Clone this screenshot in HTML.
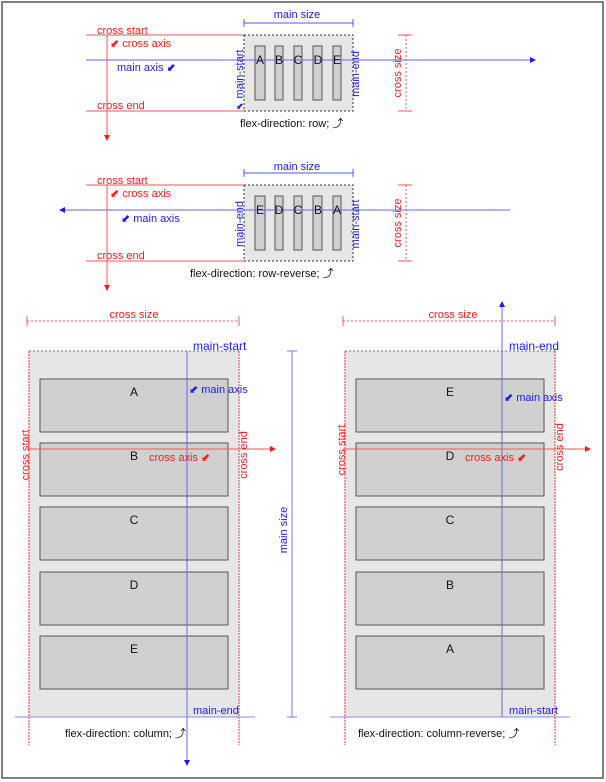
<!DOCTYPE html>
<html><head><meta charset="utf-8"><style>
html,body{margin:0;padding:0;background:#fff;}
svg{display:block;font-family:"Liberation Sans",sans-serif;font-size:11px;}
.r{fill:#ff1a1a}.b{fill:#1a1aff}.k{fill:#111}
</style></head><body>
<svg width="606" height="782" viewBox="0 0 606 782" xmlns="http://www.w3.org/2000/svg">
<defs>
<marker id="ab" markerWidth="6" markerHeight="6" refX="5" refY="3" orient="auto" markerUnits="userSpaceOnUse"><path d="M0,0L6,3L0,6z" fill="#1a1aff"/></marker>
<marker id="ar" markerWidth="6" markerHeight="6" refX="5" refY="3" orient="auto" markerUnits="userSpaceOnUse"><path d="M0,0L6,3L0,6z" fill="#ff1a1a"/></marker>
</defs>
<rect x="2" y="2" width="601" height="776" fill="none" stroke="#555" stroke-width="1.5"/>

<!-- ROW -->
<text x="297" y="18" class="b" text-anchor="middle">main size</text>
<path d="M244,23H353M244,19V27M353,19V27" stroke="#55f" fill="none"/>
<rect x="244" y="35" width="109" height="76" fill="#e6e6e6" stroke="#333" stroke-dasharray="2,2"/>
<path d="M86,35H244M86,111H244" stroke="#f55"/>
<line x1="107" y1="35" x2="107" y2="140" stroke="#f55" marker-end="url(#ar)"/>
<g fill="#d0d0d0" stroke="#555">
<rect x="255" y="46" width="10" height="54"/><rect x="275" y="46" width="8" height="54"/><rect x="294" y="46" width="8" height="54"/><rect x="313" y="46" width="9" height="54"/><rect x="333" y="46" width="8" height="54"/></g>
<line x1="86" y1="60" x2="535" y2="60" stroke="#66f" marker-end="url(#ab)"/>
<g class="k" font-size="12" text-anchor="middle"><text x="260" y="64">A</text><text x="279" y="64">B</text><text x="298" y="64">C</text><text x="318" y="64">D</text><text x="337" y="64">E</text></g>
<text x="97" y="34" class="r">cross start</text>
<text x="110" y="47" class="r">⬋ cross axis</text>
<text x="117" y="71" class="b">main axis ⬋</text>
<text x="97" y="109" class="r">cross end</text>
<text class="b" transform="translate(243,74) rotate(-90)" text-anchor="middle">main-start</text>
<text x="236" y="109" class="b" font-size="9">⬋</text>
<text class="b" transform="translate(359,74) rotate(-90)" text-anchor="middle">main-end</text>
<path d="M398,35H412M398,111H412" stroke="#f55"/>
<line x1="406" y1="35" x2="406" y2="111" stroke="#f55" stroke-dasharray="2,2"/>
<text class="r" transform="translate(401,73) rotate(-90)" text-anchor="middle">cross size</text>
<text x="240" y="127" class="k">flex-direction: row; ⤴</text>

<!-- ROW-REVERSE -->
<text x="297" y="170" class="b" text-anchor="middle">main size</text>
<path d="M244,173H353M244,169V177M353,169V177" stroke="#55f" fill="none"/>
<rect x="244" y="185" width="109" height="76" fill="#e6e6e6" stroke="#333" stroke-dasharray="2,2"/>
<path d="M86,185H244M86,261H244" stroke="#f55"/>
<line x1="107" y1="185" x2="107" y2="290" stroke="#f55" marker-end="url(#ar)"/>
<g fill="#d0d0d0" stroke="#555">
<rect x="255" y="196" width="10" height="54"/><rect x="275" y="196" width="8" height="54"/><rect x="294" y="196" width="8" height="54"/><rect x="313" y="196" width="9" height="54"/><rect x="333" y="196" width="8" height="54"/></g>
<line x1="510" y1="210" x2="60" y2="210" stroke="#66f" marker-end="url(#ab)"/>
<g class="k" font-size="12" text-anchor="middle"><text x="260" y="214">E</text><text x="279" y="214">D</text><text x="298" y="214">C</text><text x="318" y="214">B</text><text x="337" y="214">A</text></g>
<text x="97" y="184" class="r">cross start</text>
<text x="110" y="197" class="r">⬋ cross axis</text>
<text x="121" y="222" class="b">⬋ main axis</text>
<text x="97" y="259" class="r">cross end</text>
<text class="b" transform="translate(243,224) rotate(-90)" text-anchor="middle">main-end</text>
<text class="b" transform="translate(359,224) rotate(-90)" text-anchor="middle">main-start</text>
<path d="M398,185H412M398,261H412" stroke="#f55"/>
<line x1="406" y1="185" x2="406" y2="261" stroke="#f55" stroke-dasharray="2,2"/>
<text class="r" transform="translate(401,223) rotate(-90)" text-anchor="middle">cross size</text>
<text x="190" y="277" class="k">flex-direction: row-reverse; ⤴</text>

<!-- COLUMN -->
<text x="134" y="318" class="r" text-anchor="middle">cross size</text>
<path d="M27,316V326M239,316V326" stroke="#f55"/>
<line x1="27" y1="321" x2="239" y2="321" stroke="#f55" stroke-dasharray="2,2"/>
<rect x="29" y="351" width="210" height="366" fill="#e6e6e6"/>
<path d="M29,351H239M29,717H239" stroke="#333" stroke-dasharray="2,2"/>
<line x1="29" y1="351" x2="239" y2="351" stroke="#66f" stroke-dasharray="2,2"/>
<path d="M29,351V745M239,351V745" stroke="#f33" stroke-dasharray="2,1"/>
<g fill="#d0d0d0" stroke="#555">
<rect x="40" y="379" width="188" height="53"/><rect x="40" y="443" width="188" height="53"/><rect x="40" y="507" width="188" height="53"/><rect x="40" y="572" width="188" height="53"/><rect x="40" y="636" width="188" height="53"/></g>
<g class="k" font-size="12" text-anchor="middle"><text x="134" y="396">A</text><text x="134" y="460">B</text><text x="134" y="524">C</text><text x="134" y="589">D</text><text x="134" y="653">E</text></g>
<line x1="187" y1="351" x2="187" y2="765" stroke="#66f" marker-end="url(#ab)"/>
<line x1="15" y1="717" x2="255" y2="717" stroke="#88f"/>
<line x1="27" y1="449" x2="275" y2="449" stroke="#f55" marker-end="url(#ar)"/>
<text x="193" y="350" class="b" font-size="12">main-start</text>
<text x="189" y="393" class="b">⬋ main axis</text>
<text x="149" y="461" class="r">cross axis ⬋</text>
<text class="r" transform="translate(29,455) rotate(-90)" text-anchor="middle">cross start</text>
<text class="r" transform="translate(247,455) rotate(-90)" text-anchor="middle">cross end</text>
<text x="193" y="714" class="b">main-end</text>
<path d="M292,351V717M287,351H297M287,717H297" stroke="#77f" fill="none"/>
<text class="b" transform="translate(287,530) rotate(-90)" text-anchor="middle">main size</text>
<text x="65" y="737" class="k">flex-direction: column; ⤴</text>

<!-- COLUMN-REVERSE -->
<text x="453" y="318" class="r" text-anchor="middle">cross size</text>
<path d="M343,316V326M555,316V326" stroke="#f55"/>
<line x1="343" y1="321" x2="555" y2="321" stroke="#f55" stroke-dasharray="2,2"/>
<rect x="345" y="351" width="210" height="366" fill="#e6e6e6"/>
<path d="M345,717H555" stroke="#333" stroke-dasharray="2,2"/>
<line x1="345" y1="351" x2="555" y2="351" stroke="#66f" stroke-dasharray="2,2"/>
<path d="M345,351V745M555,351V745" stroke="#f33" stroke-dasharray="2,1"/>
<g fill="#d0d0d0" stroke="#555">
<rect x="356" y="379" width="188" height="53"/><rect x="356" y="443" width="188" height="53"/><rect x="356" y="507" width="188" height="53"/><rect x="356" y="572" width="188" height="53"/><rect x="356" y="636" width="188" height="53"/></g>
<g class="k" font-size="12" text-anchor="middle"><text x="450" y="396">E</text><text x="450" y="460">D</text><text x="450" y="524">C</text><text x="450" y="589">B</text><text x="450" y="653">A</text></g>
<line x1="502" y1="717" x2="502" y2="302" stroke="#66f" marker-end="url(#ab)"/>
<line x1="330" y1="717" x2="570" y2="717" stroke="#88f"/>
<line x1="343" y1="449" x2="590" y2="449" stroke="#f55" marker-end="url(#ar)"/>
<text x="509" y="350" class="b" font-size="12">main-end</text>
<text x="504" y="401" class="b">⬋ main axis</text>
<text x="465" y="461" class="r">cross axis ⬋</text>
<text class="r" transform="translate(345,450) rotate(-90)" text-anchor="middle">cross start</text>
<text class="r" transform="translate(563,447) rotate(-90)" text-anchor="middle">cross end</text>
<text x="509" y="714" class="b">main-start</text>
<text x="358" y="737" class="k">flex-direction: column-reverse; ⤴</text>
</svg>
</body></html>
